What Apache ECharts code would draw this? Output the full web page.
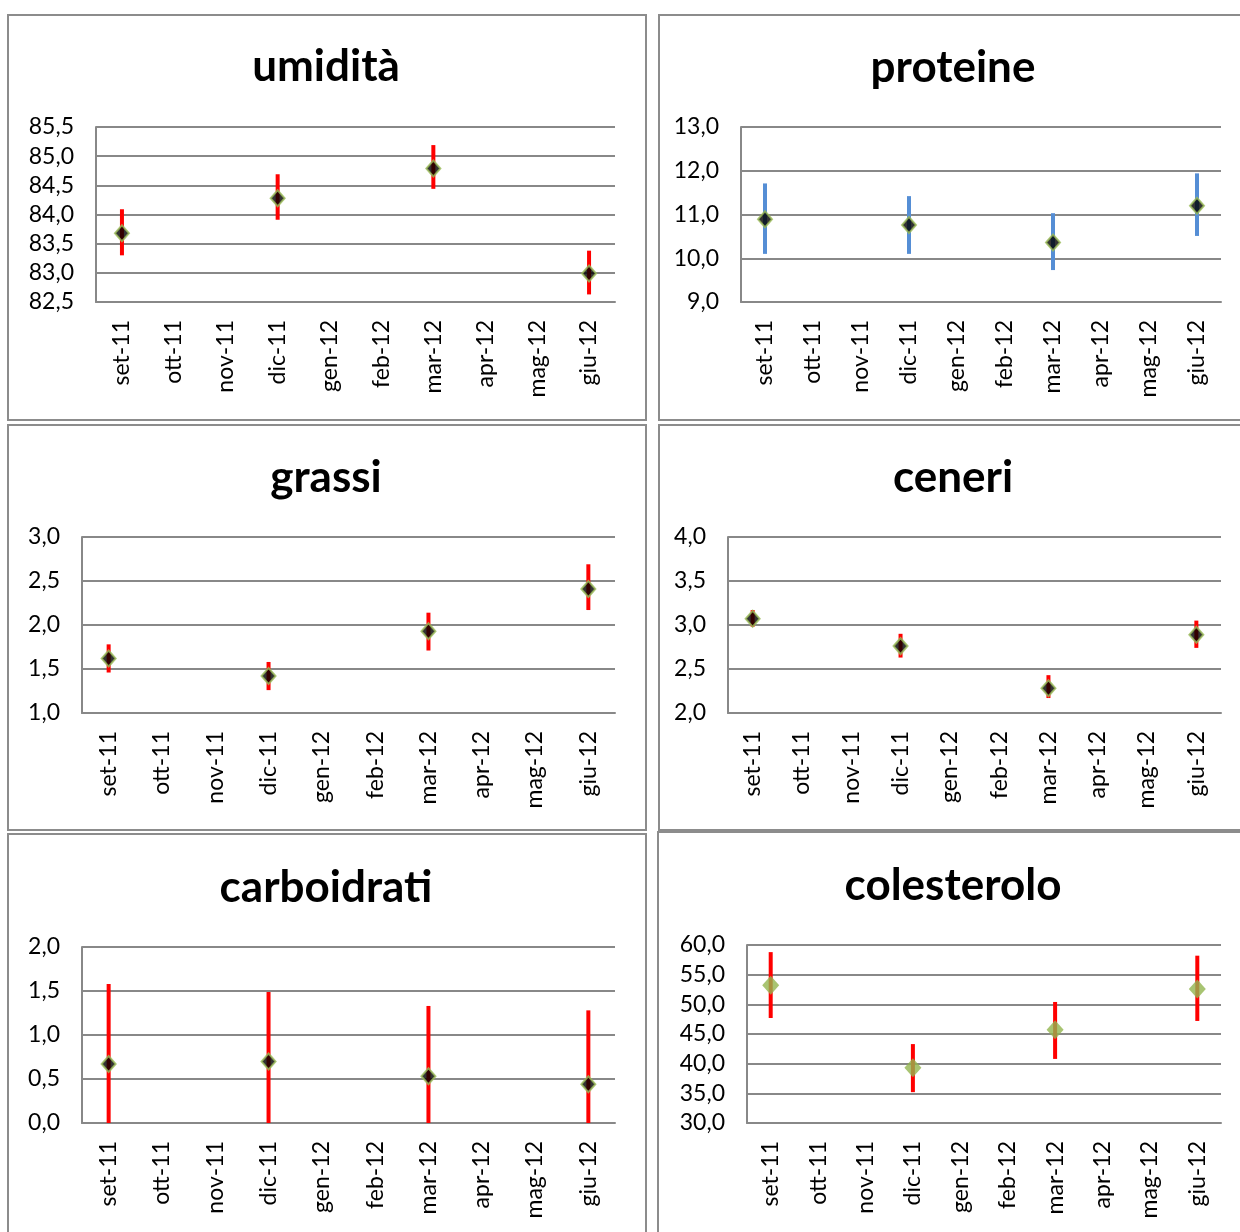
<!DOCTYPE html>
<html>
<head>
<meta charset="utf-8">
<script src="https://cdn.jsdelivr.net/npm/echarts@6/dist/echarts.min.js"></script>
<style>
html,body{margin:0;padding:0;background:#fff;}
#chart{width:1240px;height:1232px;}
</style>
</head>
<body>
<div id="chart"></div>
<script>
// ---- categories (x axis tick labels) ----
const months = ["set-11","ott-11","nov-11","dic-11","gen-12","feb-12","mar-12","apr-12","mag-12","giu-12"];
const sampleMonths = ["set-11","dic-11","mar-12","giu-12"];

// ---- umidità ----
const umiditaVal  = [83.68, 84.28, 84.79, 82.99];
const umiditaLow  = [83.30, 83.91, 84.44, 82.63];
const umiditaHigh = [84.09, 84.69, 85.19, 83.38];

// ---- proteine ----
const proteineVal  = [10.89, 10.76, 10.36, 11.20];
const proteineLow  = [10.10, 10.10, 9.73, 10.51];
const proteineHigh = [11.71, 11.42, 11.03, 11.94];

// ---- grassi ----
const grassiVal  = [1.62, 1.42, 1.93, 2.41];
const grassiLow  = [1.46, 1.26, 1.71, 2.17];
const grassiHigh = [1.78, 1.58, 2.14, 2.69];

// ---- ceneri ----
const ceneriVal  = [3.07, 2.76, 2.28, 2.89];
const ceneriLow  = [2.98, 2.63, 2.17, 2.74];
const ceneriHigh = [3.17, 2.90, 2.43, 3.05];

// ---- carboidrati ----
const carboVal  = [0.67, 0.70, 0.53, 0.44];
const carboLow  = [0.00, 0.00, 0.00, 0.00];
const carboHigh = [1.58, 1.49, 1.33, 1.28];

// ---- colesterolo ----
const colestVal  = [53.2, 39.3, 45.7, 52.6];
const colestLow  = [47.7, 35.2, 40.8, 47.2];
const colestHigh = [58.8, 43.3, 50.4, 58.2];

// ---- y axis ranges ----
const yRanges = {
  umidita: [82.5, 85.5, 0.5],
  proteine: [9, 13, 1],
  grassi: [1, 3, 0.5],
  ceneri: [2, 4, 0.5],
  carbo: [0, 2, 0.5],
  colest: [30, 60, 5]
};

const FONT = 'Lato, "Open Sans", sans-serif';
const GRAY = '#888888';

const panels = [
  {title:'umidità', val:umiditaVal, low:umiditaLow, high:umiditaHigh, y:yRanges.umidita, bar:'#ff0000', marker:'black',
   grid:{left:96, top:127, width:519, height:175}, tx:321, ty:40},
  {title:'proteine', val:proteineVal, low:proteineLow, high:proteineHigh, y:yRanges.proteine, bar:'#558ed5', marker:'black',
   grid:{left:741, top:127, width:480, height:175}, tx:948, ty:41},
  {title:'grassi', val:grassiVal, low:grassiLow, high:grassiHigh, y:yRanges.grassi, bar:'#ff0000', marker:'black',
   grid:{left:82, top:537, width:533, height:176}, tx:321, ty:451},
  {title:'ceneri', val:ceneriVal, low:ceneriLow, high:ceneriHigh, y:yRanges.ceneri, bar:'#ff0000', marker:'black',
   grid:{left:728, top:537, width:493, height:176}, tx:948, ty:451},
  {title:'carboidrati', val:carboVal, low:carboLow, high:carboHigh, y:yRanges.carbo, bar:'#ff0000', marker:'black',
   grid:{left:82, top:947, width:533, height:176}, tx:321, ty:861},
  {title:'colesterolo', val:colestVal, low:colestLow, high:colestHigh, y:yRanges.colest, bar:'#ff0000', marker:'green',
   grid:{left:747, top:945, width:474, height:178}, tx:948, ty:859}
];

const boxes = [
  [8, 15, 638, 405],
  [659, 15, 600, 405],
  [8, 425, 638, 405],
  [659, 425, 600, 405],
  [8, 834, 638, 420],
  [658, 832, 600, 420]
];

const option = {
  animation: false,
  backgroundColor: '#ffffff',
  title: [], grid: [], xAxis: [], yAxis: [], series: [],
  graphic: boxes.map(b => ({
    type:'rect', shape:{x:b[0], y:b[1], width:b[2], height:b[3]},
    style:{fill:'none', stroke:'#8c8c8c', lineWidth:2}, z:-1
  }))
};

panels.forEach((p, i) => {
  option.title.push({
    text: p.title, left: p.tx, top: p.ty, textAlign: 'center',
    textStyle: {fontFamily: FONT, fontWeight: 'bold', fontSize: 44, color: '#000'}
  });
  option.grid.push(Object.assign({containLabel:false}, p.grid));
  option.xAxis.push({
    type:'category', gridIndex:i, data: months, boundaryGap:true,
    axisLine:{show:true, lineStyle:{color:GRAY, width:2}},
    axisTick:{show:false},
    axisLabel:{rotate:90, margin:18, interval:0, fontFamily:FONT, fontSize:23, color:'#000'},
    splitLine:{show:false}
  });
  option.yAxis.push({
    type:'value', gridIndex:i, min:p.y[0], max:p.y[1], interval:p.y[2],
    axisLine:{show:true, lineStyle:{color:GRAY, width:2}},
    axisTick:{show:false},
    axisLabel:{margin:22, fontFamily:FONT, fontSize:23, color:'#000',
      formatter: v => v.toFixed(1).replace('.', ',')},
    splitLine:{show:true, lineStyle:{color:GRAY, width:2}}
  });
  const barColor = p.bar;
  option.series.push({
    type:'custom', xAxisIndex:i, yAxisIndex:i, z:3,
    data: sampleMonths.map((m, k) => [m, p.low[k], p.high[k]]),
    renderItem: function(params, api) {
      const a = api.coord([api.value(0), api.value(1)]);
      const b = api.coord([api.value(0), api.value(2)]);
      return {type:'line', shape:{x1:a[0], y1:a[1], x2:b[0], y2:b[1]},
        style:{stroke:barColor, lineWidth:4}};
    }
  });
  const isGreen = p.marker === 'green';
  option.series.push({
    type:'scatter', xAxisIndex:i, yAxisIndex:i, z:5,
    symbol:'diamond', symbolSize: isGreen ? [17,19] : [14,16],
    itemStyle: isGreen ? {color:'#92b54f', borderWidth:0}
                       : {color:'#000000', borderColor:'#9bbb59', borderWidth:2},
    data: sampleMonths.map((m, k) => [m, p.val[k]])
  });
});

const chart = echarts.init(document.getElementById('chart'), null, {renderer:'canvas'});
chart.setOption(option);
</script>
</body>
</html>
